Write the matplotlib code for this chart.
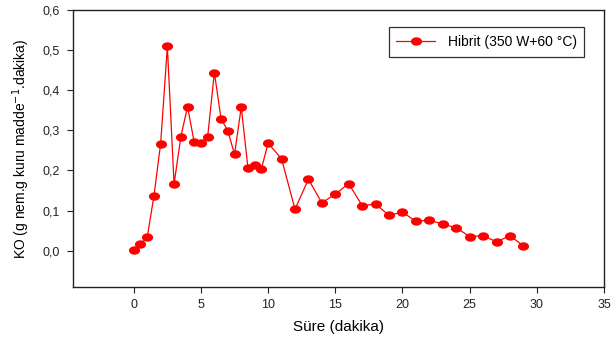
import numpy as np
import matplotlib
matplotlib.use('Agg')
import matplotlib.pyplot as plt
from matplotlib.path import Path
from matplotlib.ticker import FuncFormatter

plt.rcParams['font.family'] = ['Liberation Sans', 'DejaVu Sans']

# drying time (min) and drying rate
sure = [0, 0.5, 1, 1.5, 2, 2.5, 3, 3.5, 4, 4.5, 5, 5.5, 6, 6.5, 7, 7.5, 8, 8.5,
        9, 9.5, 10, 11, 12, 13, 14, 15, 16, 17, 18, 19, 20, 21, 22, 23, 24,
        25, 26, 27, 28, 29]
ko = [0.002, 0.017, 0.033, 0.136, 0.267, 0.509, 0.166, 0.283, 0.359, 0.270,
      0.269, 0.284, 0.444, 0.328, 0.299, 0.240, 0.358, 0.206, 0.214, 0.204,
      0.268, 0.229, 0.103, 0.178, 0.119, 0.141, 0.167, 0.112, 0.116, 0.088,
      0.096, 0.073, 0.076, 0.066, 0.057, 0.035, 0.037, 0.022, 0.037, 0.012]
label = 'Hibrit (350 W+60 °C)'
x_ticks = [0, 5, 10, 15, 20, 25, 30, 35]
y_ticks = [0.0, 0.1, 0.2, 0.3, 0.4, 0.5, 0.6]

# slightly flattened circle marker
circ = Path.unit_circle()
oval = Path(circ.vertices * np.array([1.0, 0.72]), circ.codes)

fig = plt.figure(figsize=(6.14, 3.42), dpi=100)
ax = fig.add_axes([0.1194, 0.1617, 0.8643, 0.8091])

ax.plot(sure, ko, color='#ff0000', lw=0.9, marker=oval, ms=7,
        mfc='#ff0000', mec='#ff0000', label=label)

ax.set_xlim(-4.5, 35)
ax.set_ylim(-0.09, 0.6)
ax.set_xticks(x_ticks)
ax.set_yticks(y_ticks)
ax.yaxis.set_major_formatter(FuncFormatter(lambda v, p: ('%.1f' % v).replace('.', ',')))
ax.tick_params(direction='out', length=4, width=0.8, labelsize=9,
               colors='#222222', pad=5)
ax.tick_params(axis='y', pad=6)
for s in ax.spines.values():
    s.set_linewidth(1.0)
    s.set_color('#222222')

ax.set_xlabel('Süre (dakika)', fontsize=11, labelpad=6)
ax.set_ylabel('KO (g nem.g kuru madde$^{-1}$.dakika)', fontsize=10, labelpad=7)

leg = ax.legend(loc='upper right', bbox_to_anchor=(0.963, 0.9375),
                borderaxespad=0, fancybox=False, edgecolor='#333333',
                framealpha=1, fontsize=10, handlelength=2.8, borderpad=0.55,
                handletextpad=0.9)
leg.get_frame().set_linewidth(0.9)

fig.savefig('out.png', dpi=100)
